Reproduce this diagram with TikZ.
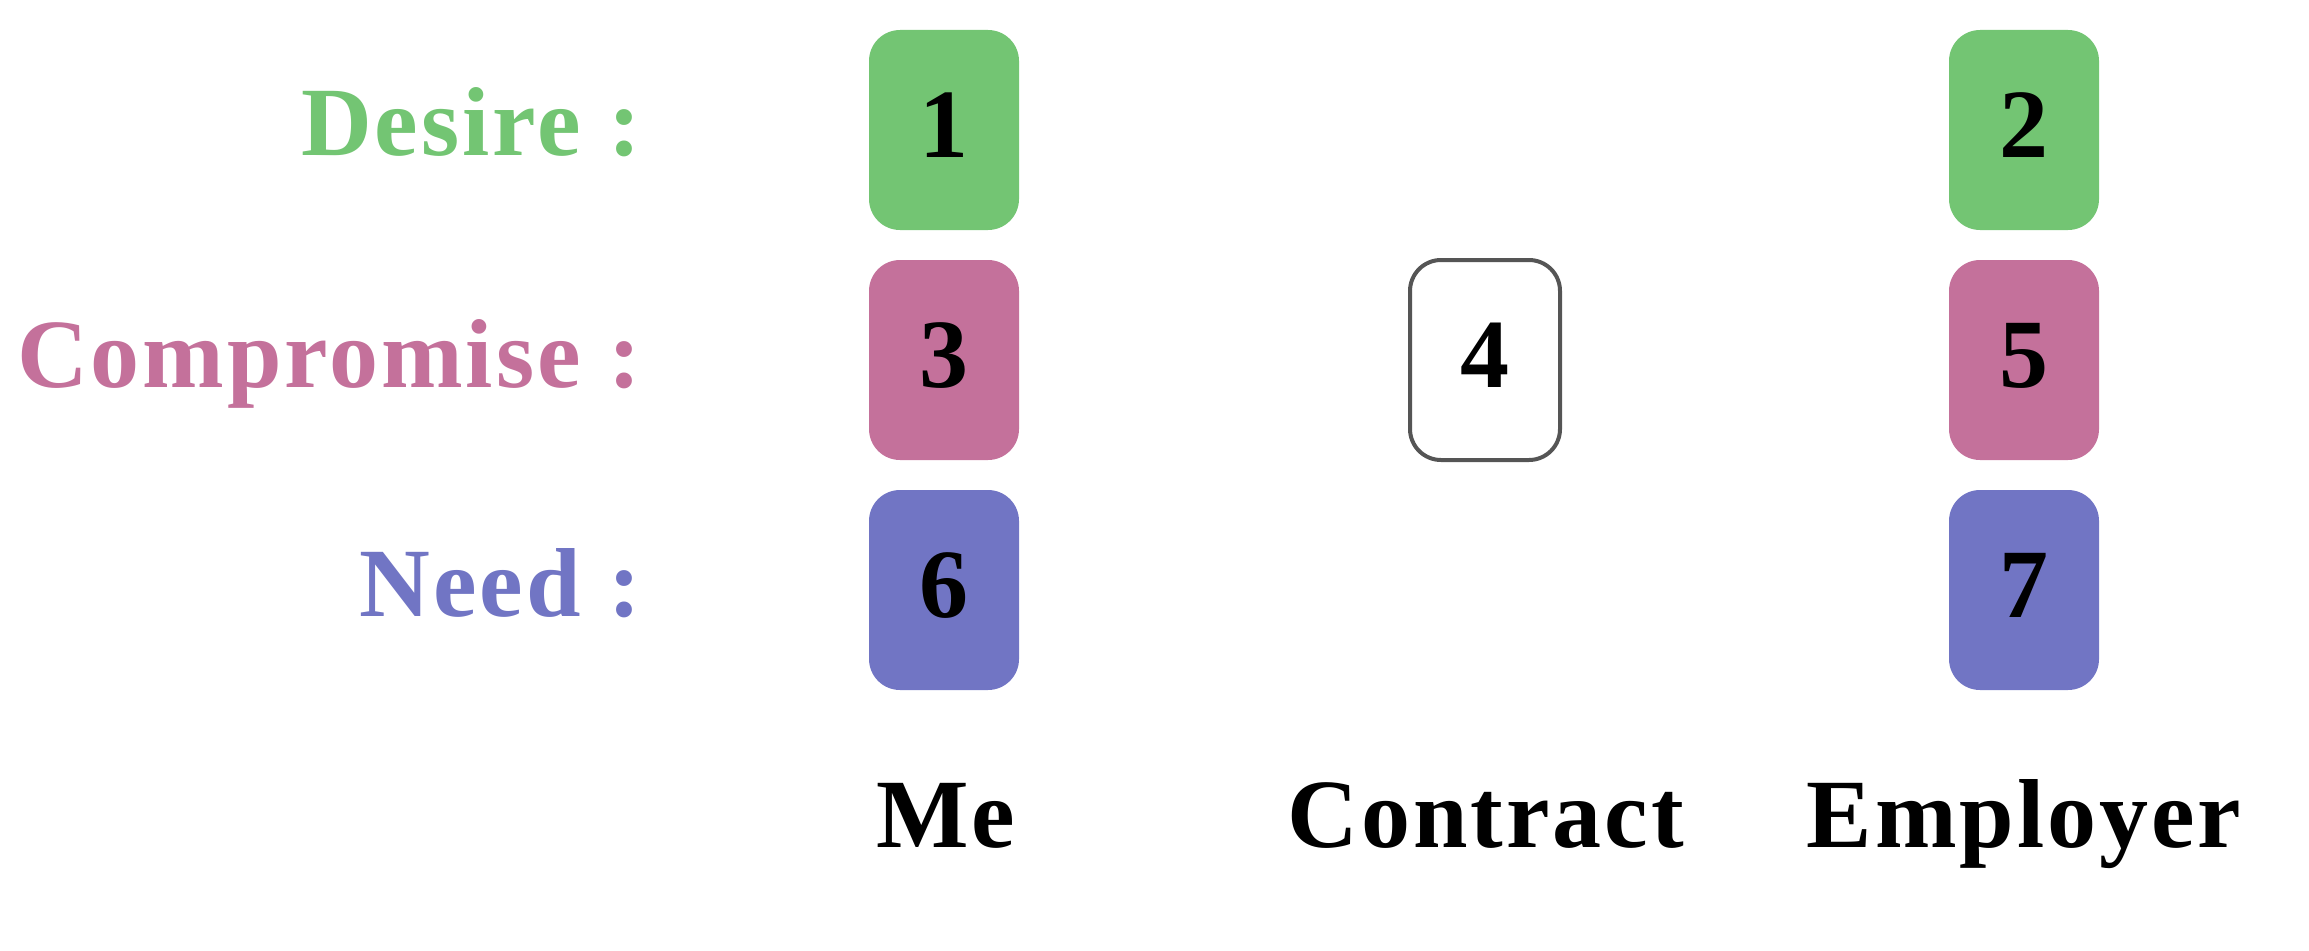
\documentclass[tikz,border=0pt]{standalone}
\usepackage{fontspec}
\setmainfont{Liberation Serif}
\definecolor{dgreen}{RGB}{115,197,115}
\definecolor{dpink}{RGB}{196,113,155}
\definecolor{dblue}{RGB}{113,117,196}
\definecolor{dgray}{RGB}{85,85,85}
\begin{document}
\begin{tikzpicture}[x=1pt,y=-1pt,
  card/.style={rectangle, rounded corners=31pt, minimum width=150pt, minimum height=200pt, inner sep=0pt},
  num/.style={font=\fontsize{98}{110}\selectfont\bfseries, anchor=base, inner sep=0pt},
  rowlbl/.style={font=\fontsize{98}{110}\selectfont\bfseries\addfontfeature{LetterSpace=3}, anchor=base east, inner sep=0pt},
  collbl/.style={font=\fontsize{98}{110}\selectfont\bfseries\addfontfeature{LetterSpace=3}, anchor=base, inner sep=0pt}]
\useasboundingbox (0,0) rectangle (2309,950);
% cards
\node[card, fill=dgreen] (c1) at (944,130) {};
\node[card, fill=dgreen] (c2) at (2024,130) {};
\node[card, fill=dpink]  (c3) at (944,360) {};
\node[card, draw=dgray, line width=4pt, fill=white] (c4) at (1485,360) {};
\node[card, fill=dpink]  (c5) at (2024,360) {};
\node[card, fill=dblue]  (c6) at (944,590) {};
\node[card, fill=dblue]  (c7) at (2024,590) {};
% numbers
\node[num] (n1) at (944,157) {1};
\node[num] (n2) at (2024,157) {2};
\node[num] (n3) at (944,387) {3};
\node[num] (n4) at (1485,387) {4};
\node[num] (n5) at (2024,387) {5};
\node[num] (n6) at (944,617) {6};
\node[num] (n7) at (2024,617) {7};
% row labels
\node[rowlbl, text=dgreen] (ldesire) at (641,155) {Desire :};
\node[rowlbl, text=dpink]  (lcomp)   at (641,387) {Compromise :};
\node[rowlbl, text=dblue]  (lneed)   at (641,616) {Need :};
% column labels
\node[collbl] (lme)  at (946,847) {Me};
\node[collbl] (lcon) at (1486,847) {Contract};
\node[collbl] (lemp) at (2024,847) {Employer};
\end{tikzpicture}
\end{document}
